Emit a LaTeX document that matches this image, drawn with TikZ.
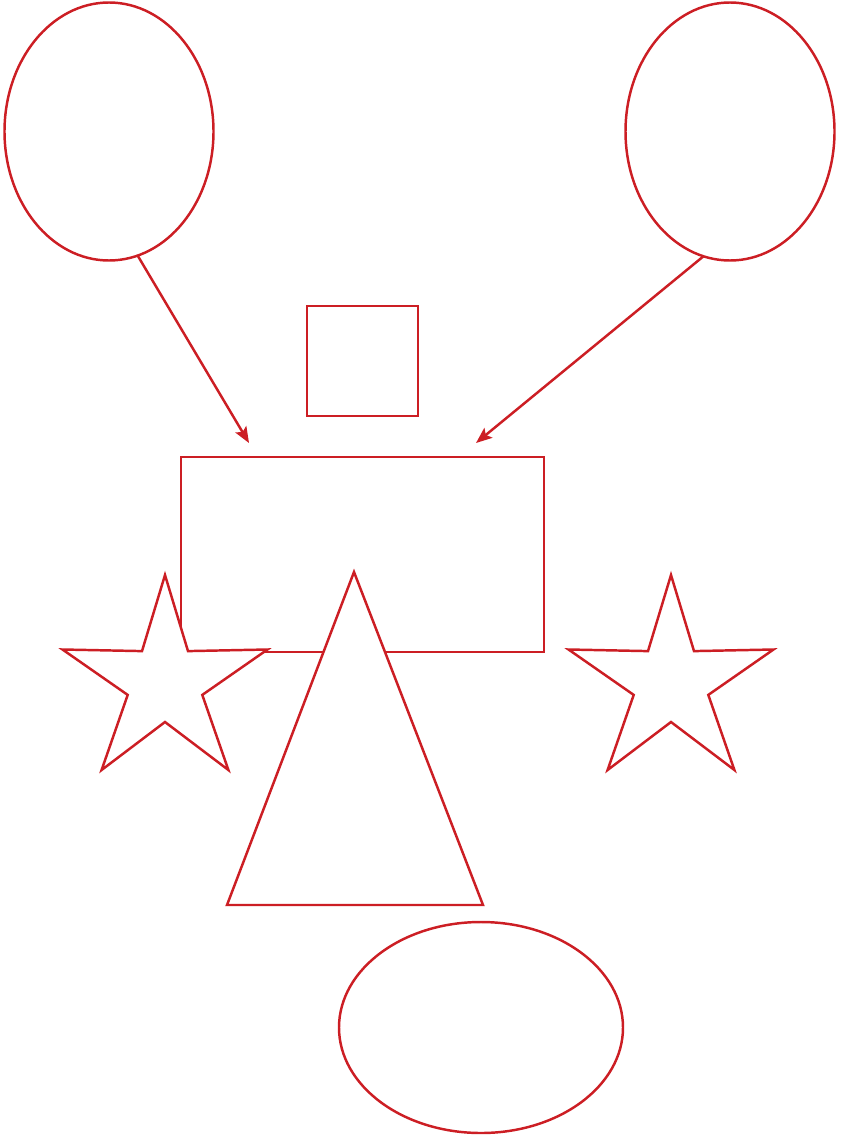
\documentclass[tikz,border=0pt]{standalone}
\usetikzlibrary{shapes.geometric,arrows.meta}
\definecolor{shapered}{RGB}{204,30,36}
\tikzset{
  outline/.style={draw=shapered, line width=1.85pt},
  ell/.style={outline, ellipse, inner sep=0pt, outer sep=0pt},
  box/.style={outline, rectangle, inner sep=0pt, outer sep=0pt},
  solidshape/.style={outline, fill=white, line join=miter},
  conn/.style={draw=shapered, line width=1.85pt, -{Stealth[length=12pt,width=9.5pt,inset=2.5pt]}}
}
\begin{document}
\begin{tikzpicture}[x=0.75pt,y=-0.75pt]
\useasboundingbox (0,0) rectangle (843,1138);
% top ellipses
\node[ell, minimum width=156.75pt, minimum height=193.5pt] (L) at (109,131.5) {};
\node[ell, minimum width=156.75pt, minimum height=193.5pt] (R) at (730,131.5) {};
% square and rectangle
\node[box, minimum width=83.25pt, minimum height=82.5pt] (sq) at (362.5,361) {};
\node[box, minimum width=272.25pt, minimum height=146.25pt] (rect) at (362.5,554.5) {};
% arrows
\coordinate (aL) at (249,443);
\coordinate (aR) at (476,443);
\draw[conn] (L.-77.5) -- (aL);
\draw[conn] (R.-102.5) -- (aR);
% left star
\draw[solidshape] (165,575) -- (188.0,651.1) -- (267.5,649.5) -- (202.3,694.9) -- (228.4,770.0) -- (165,722) -- (101.6,770.0) -- (127.7,694.9) -- (62.5,649.5) -- (142.0,651.1) -- cycle;
% right star
\draw[solidshape] (671,575) -- (694.0,651.1) -- (773.5,649.5) -- (708.3,694.9) -- (734.4,770.0) -- (671,722) -- (607.6,770.0) -- (633.7,694.9) -- (568.5,649.5) -- (648.0,651.1) -- cycle;
% triangle
\draw[solidshape] (354,572) -- (483,905) -- (227,905) -- cycle;
% bottom ellipse
\node[ell, minimum width=213pt, minimum height=158.25pt] (B) at (481,1027.5) {};
\end{tikzpicture}
\end{document}
